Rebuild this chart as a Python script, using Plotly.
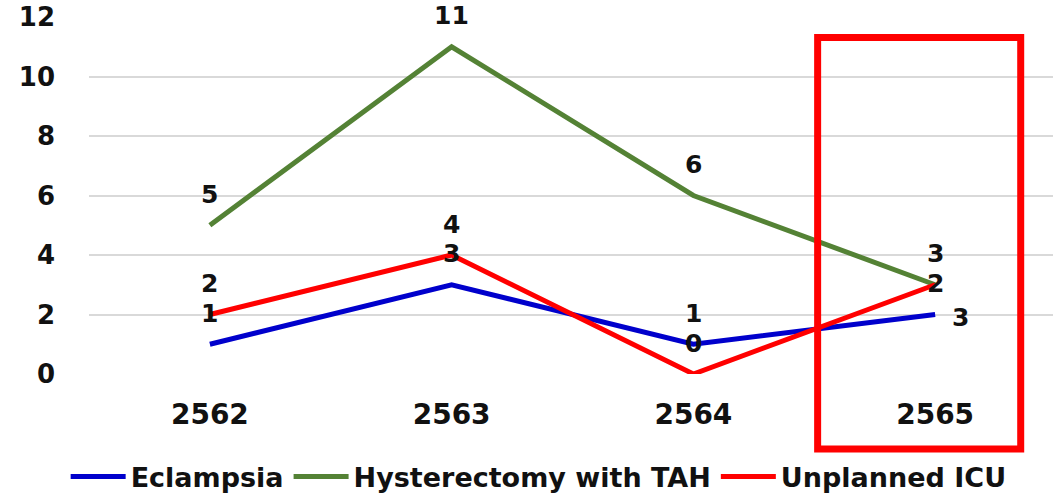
import plotly.graph_objects as go

years = ["2562", "2563", "2564", "2565"]
eclampsia = [1, 3, 1, 2]
hysterectomy = [5, 11, 6, 3]
unplanned_icu = [2, 4, 0, 3]
y_ticks = [0, 2, 4, 6, 8, 10, 12]

series = [
    ("Eclampsia", eclampsia, "#0000CC"),
    ("Hysterectomy with TAH", hysterectomy, "#548235"),
    ("Unplanned ICU", unplanned_icu, "#FF0000"),
]

FONT = "DejaVu Sans"

fig = go.Figure()
for name, vals, col in series:
    fig.add_trace(go.Scatter(
        x=years, y=vals, name=name, mode="lines",
        line=dict(color=col, width=5),
    ))

# data labels (category index used for x position)
for name, vals, col in series:
    for i, v in enumerate(vals):
        xs, ys = 0, 31
        if name == "Unplanned ICU" and i == 3:
            xs, ys = 25, -33
        fig.add_annotation(
            x=i, y=v, text=str(v), showarrow=False,
            xshift=xs, yshift=ys,
            font=dict(family=FONT, size=25, color="#111111", weight="bold"),
        )

# highlight box around last year
fig.add_shape(
    type="rect", xref="paper", yref="paper",
    x0=0.7535, x1=0.9635, y0=-0.21, y1=0.9425,
    line=dict(color="#FF0000", width=7), fillcolor="rgba(0,0,0,0)",
    layer="above",
)

fig.update_layout(
    width=1056, height=510,
    margin=dict(l=89, r=0, t=17, b=136),
    paper_bgcolor="white", plot_bgcolor="white",
    font=dict(family=FONT, color="#111111", weight="bold"),
    showlegend=True,
    legend=dict(
        orientation="h", x=0.465, xanchor="center", y=-0.2885, yanchor="middle",
        font=dict(family=FONT, size=27, color="#111111", weight="bold"),
        itemwidth=55, bgcolor="rgba(0,0,0,0)", tracegroupgap=0,
    ),
    xaxis=dict(
        type="category", range=[-0.5, 3.5],
        showgrid=False, showline=False, zeroline=False,
        tickfont=dict(family=FONT, size=28, color="#111111", weight="bold"),
        ticklabelstandoff=21,
    ),
    yaxis=dict(
        range=[0, 12], tickvals=y_ticks,
        showgrid=True, gridcolor="#D9D9D9", gridwidth=1.5,
        zeroline=False, showline=False,
        tickfont=dict(family=FONT, size=26, color="#111111", weight="bold"),
        ticklabelstandoff=33, ticklabeloverflow="allow",
    ),
)

fig.write_html(
    "out.html",
    config={"displayModeBar": False},
    post_script="document.body.style.margin='0';document.body.style.overflow='hidden';",
)
